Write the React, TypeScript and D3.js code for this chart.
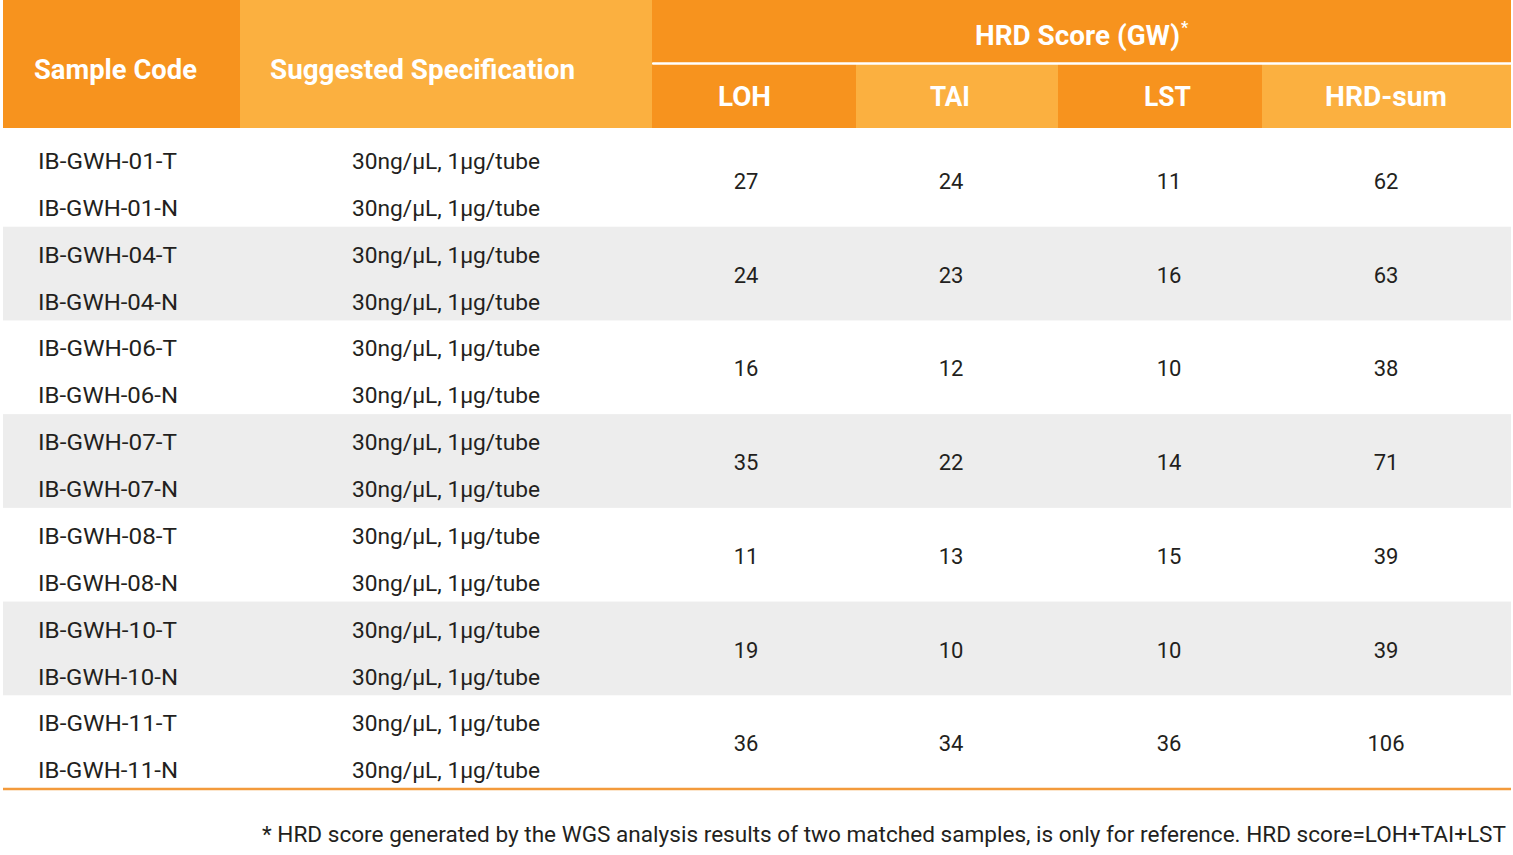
import React from 'react';
import * as d3 from 'd3';

// table content
const tumorCodes = ['IB-GWH-01-T', 'IB-GWH-04-T', 'IB-GWH-06-T', 'IB-GWH-07-T', 'IB-GWH-08-T', 'IB-GWH-10-T', 'IB-GWH-11-T'];
const normalCodes = ['IB-GWH-01-N', 'IB-GWH-04-N', 'IB-GWH-06-N', 'IB-GWH-07-N', 'IB-GWH-08-N', 'IB-GWH-10-N', 'IB-GWH-11-N'];
const specification = '30ng/\u03bcL, 1\u03bcg/tube';
const loh = [27, 24, 16, 35, 11, 19, 36];
const tai = [24, 23, 12, 22, 13, 10, 34];
const lst = [11, 16, 10, 14, 15, 10, 36];
const hrdSum = [62, 63, 38, 71, 39, 39, 106];
const scoreLabels = ['LOH', 'TAI', 'LST', 'HRD-sum'];
const footnote = '* HRD score generated by the WGS analysis results of two matched samples, is only for reference. HRD score=LOH+TAI+LST';

const W = 1513;
const H = 855;
const DARK = '#F7931E';
const LIGHT = '#FBB040';
const GRAY = '#EDEDED';
const INK = '#231F20';
const FONT = 'Roboto, "Noto Sans", sans-serif';

const colEdges = [3, 240, 652, 856, 1058, 1262, 1511];
const labelCenters = [744.5, 950, 1167.5, 1386];
const valueCenters = [746, 951, 1169, 1386];
const scoreLabelWidths = [53, 40, 47, 122];

const App = () => {
  const rows = d3.range(tumorCodes.length);
  const y = d3.scaleBand<number>().domain(rows).range([133, 789]).padding(0);
  const bw = y.bandwidth();
  const scores = [loh, tai, lst, hrdSum];
  const specX = (colEdges[1] + colEdges[2]) / 2;

  return (
    <svg width={W} height={H} style={{ position: 'absolute', left: 0, top: 0, display: 'block' }} fontFamily={FONT}>
      <rect width={W} height={H} fill="#fff" />

      {/* header */}
      <rect x={colEdges[0]} y={0} width={colEdges[1] - colEdges[0]} height={128} fill={DARK} />
      <rect x={colEdges[1]} y={0} width={colEdges[2] - colEdges[1]} height={128} fill={LIGHT} />
      <rect x={colEdges[2]} y={0} width={colEdges[6] - colEdges[2]} height={62.5} fill={DARK} />
      {scoreLabels.map((_, i) => (
        <rect key={i} x={colEdges[i + 2]} y={64.5} width={colEdges[i + 3] - colEdges[i + 2]} height={63.5}
          fill={i % 2 === 0 ? DARK : LIGHT} />
      ))}
      <rect x={colEdges[2] + 1} y={62.5} width={colEdges[6] - colEdges[2] - 1} height={2} fill="#fff" />

      <g fill="#fff" fontWeight={700} fontSize={27.5}>
        <text x={34} y={78.5} textLength={163} lengthAdjust="spacingAndGlyphs">Sample Code</text>
        <text x={270} y={78.5} textLength={305} lengthAdjust="spacingAndGlyphs">Suggested Specification</text>
        <text x={975} y={45} textLength={205} lengthAdjust="spacingAndGlyphs">HRD Score (GW)</text>
        <text x={1181} y={33} fontSize={16}>*</text>
        {scoreLabels.map((s, i) => (
          <text key={s} x={labelCenters[i]} y={106} textAnchor="middle" textLength={scoreLabelWidths[i]}
            lengthAdjust="spacingAndGlyphs">{s}</text>
        ))}
      </g>

      {/* body */}
      {rows.map((i) => (
        <g key={i}>
          {i % 2 === 1 && (
            <rect x={colEdges[0]} y={y(i)!} width={colEdges[6] - colEdges[0]} height={bw} fill={GRAY} />
          )}
        </g>
      ))}
      <g fill={INK} fontSize={22}>
        {rows.map((i) => {
          const top = y(i)!;
          return (
            <g key={i}>
              <text x={38} y={top + 36} textLength={139} lengthAdjust="spacingAndGlyphs">{tumorCodes[i]}</text>
              <text x={38} y={top + 83} textLength={140} lengthAdjust="spacingAndGlyphs">{normalCodes[i]}</text>
              <text x={specX} y={top + 36} textAnchor="middle" textLength={188} lengthAdjust="spacingAndGlyphs">{specification}</text>
              <text x={specX} y={top + 83} textAnchor="middle" textLength={188} lengthAdjust="spacingAndGlyphs">{specification}</text>
              {scores.map((s, j) => (
                <text key={j} x={valueCenters[j]} y={top + 56} textAnchor="middle">{s[i]}</text>
              ))}
            </g>
          );
        })}
      </g>

      <line x1={colEdges[0]} x2={colEdges[6]} y1={789} y2={789} stroke="#F39A3B" strokeWidth={2.5} />

      <text x={1506} y={842} textAnchor="end" fill={INK} fontSize={22} textLength={1244}
        lengthAdjust="spacingAndGlyphs">{footnote}</text>
    </svg>
  );
};

export default App;
